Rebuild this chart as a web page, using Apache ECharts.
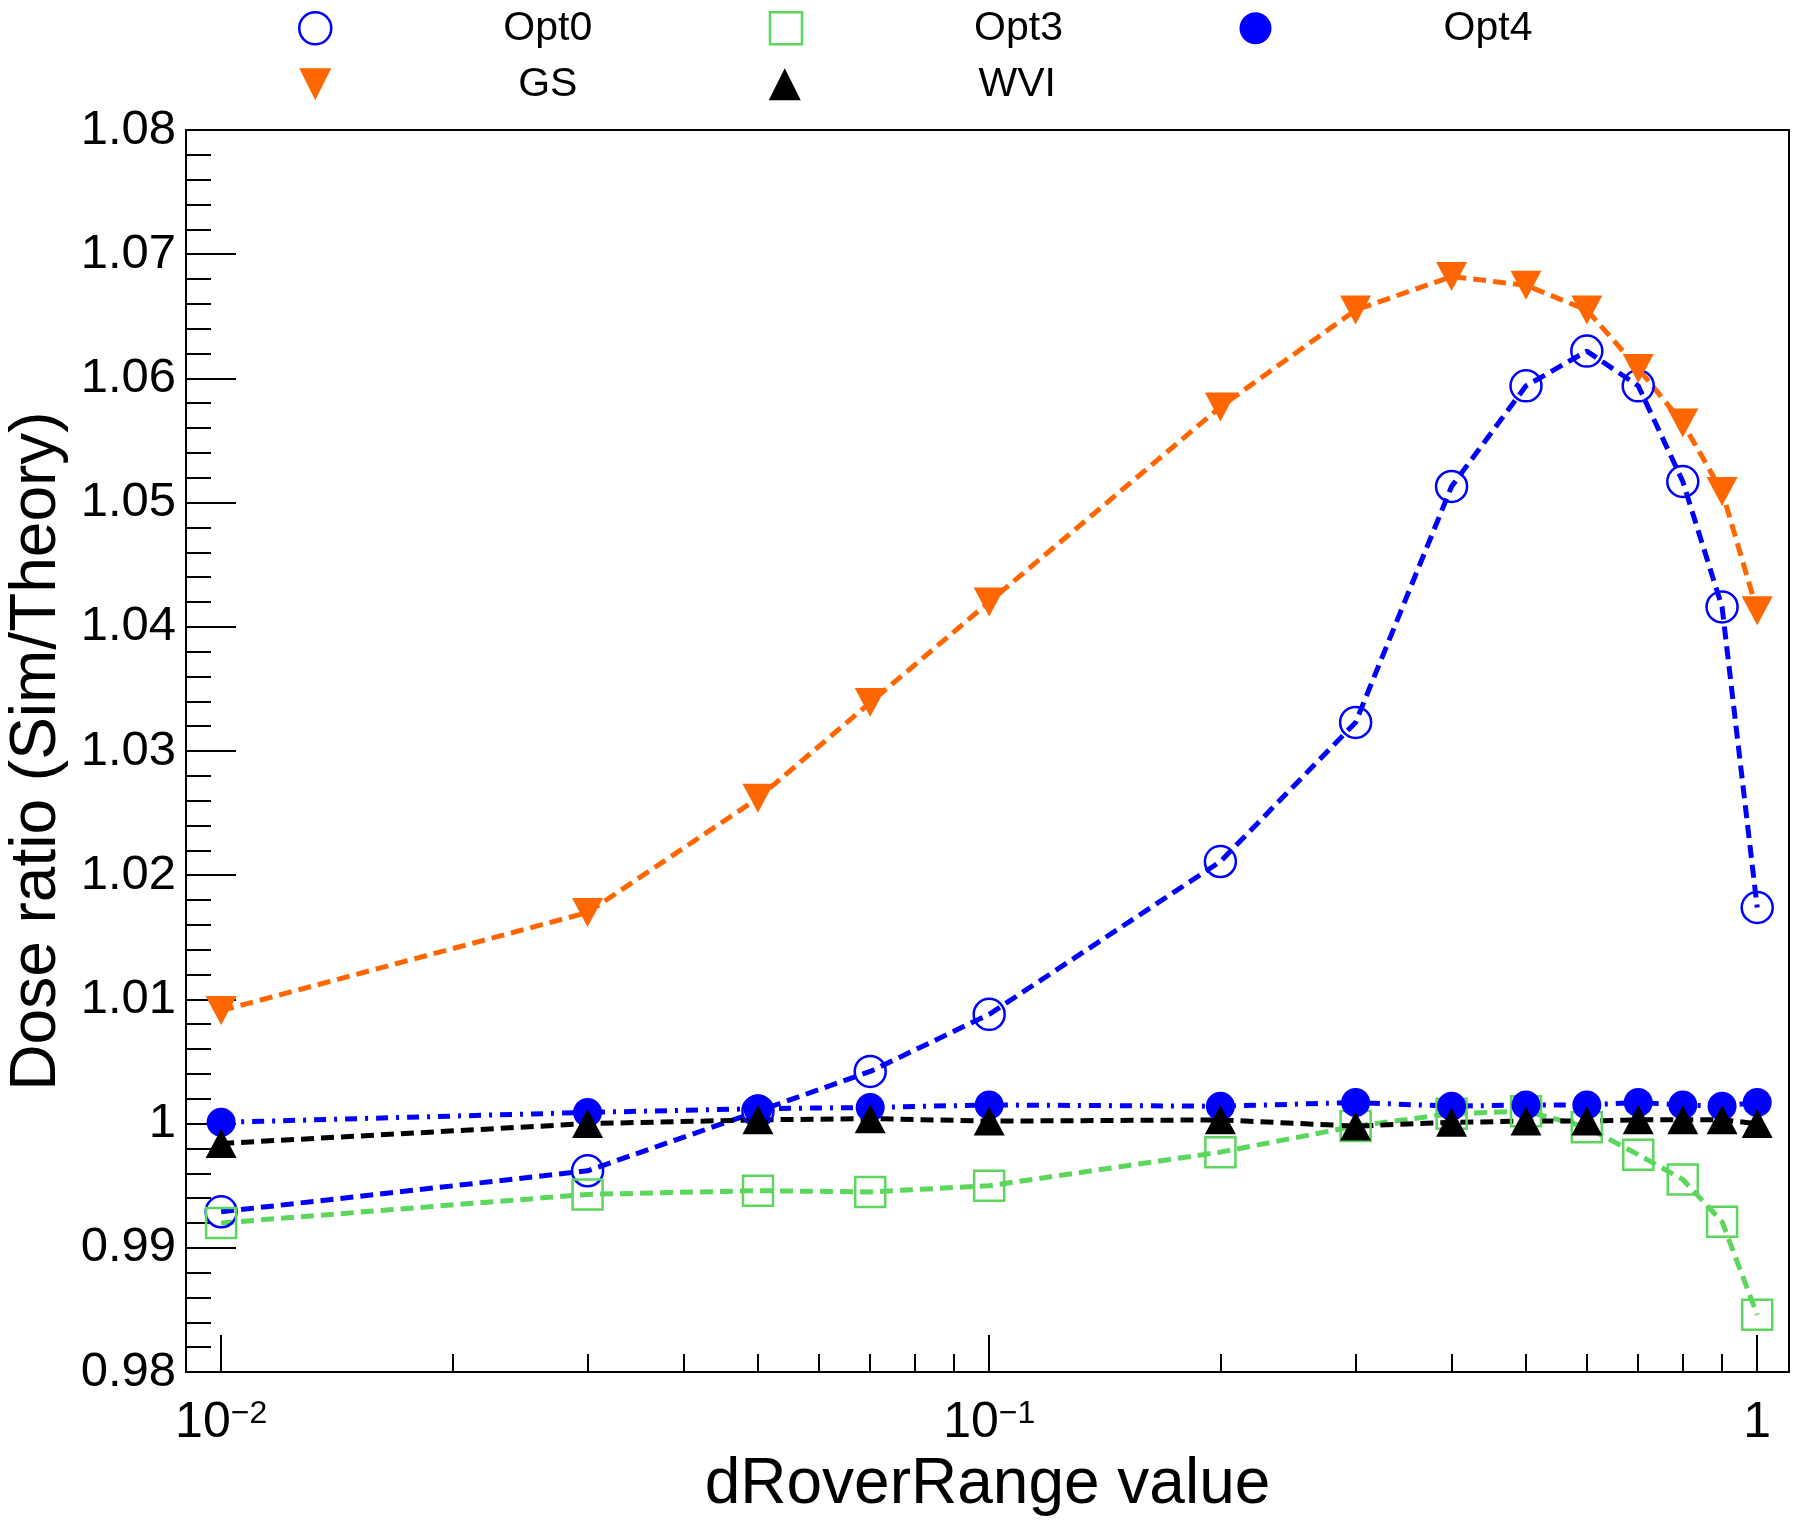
<!DOCTYPE html>
<html>
<head>
<meta charset="utf-8">
<script src="https://cdn.jsdelivr.net/npm/echarts@6/dist/echarts.min.js"></script>
<style>
html,body{margin:0;padding:0;background:#fff;}
#chart{width:1800px;height:1524px;}
</style>
</head>
<body>
<div id="chart"></div>
<script>
// ---- data ----
const xValues = [0.01, 0.03, 0.05, 0.07, 0.1, 0.2, 0.3, 0.4, 0.5, 0.6, 0.7, 0.8, 0.9, 1.0];
const opt0 = [0.9929, 0.9962, 1.0010, 1.0042, 1.0088, 1.0211, 1.0323, 1.0513, 1.0594, 1.0622, 1.0594, 1.0517, 1.0416, 1.0174];
const opt3 = [0.9920, 0.9943, 0.9946, 0.9945, 0.9950, 0.9977, 0.9998, 1.0008, 1.0010, 0.9997, 0.9975, 0.9955, 0.9921, 0.9846];
const opt4 = [1.0001, 1.0009, 1.0012, 1.0013, 1.0015, 1.0014, 1.0017, 1.0014, 1.0015, 1.0015, 1.0017, 1.0015, 1.0014, 1.0017];
const gs   = [1.0091, 1.0170, 1.0262, 1.0339, 1.0420, 1.0577, 1.0655, 1.0682, 1.0675, 1.0655, 1.0608, 1.0564, 1.0509, 1.0413];
const wvi  = [0.9984, 1.0000, 1.0003, 1.0004, 1.0002, 1.0003, 0.9998, 1.0001, 1.0002, 1.0002, 1.0003, 1.0003, 1.0003, 1.0000];

const seriesNames = ['Opt0', 'Opt3', 'Opt4', 'GS', 'WVI'];
const xMajorTicks = [0.01, 0.1, 1];
const xMajorLabels = ['{b|10}{s|\u22122}', '{b|10}{s|\u22121}', '{b|1}'];
const xMinorTicks = [0.02, 0.03, 0.04, 0.05, 0.06, 0.07, 0.08, 0.09, 0.2, 0.3, 0.4, 0.5, 0.6, 0.7, 0.8, 0.9];
const yMin = 0.98, yMax = 1.08, yStep = 0.01;
const xMin = 0.009, xMax = 1.1;
const xTitle = 'dRoverRange value';
const yTitle = 'Dose ratio (Sim/Theory)';

// ---- styling ----
const FONT = 'Liberation Sans';
const BLUE = '#0000ff', GREEN = '#5cd65c', ORANGE = '#ff6600', BLACK = '#000000';
const DASH = [13, 7];
const LW = 5;
const pairs = ys => xValues.map((x, i) => [x, ys[i]]);

const chart = echarts.init(document.getElementById('chart'), null, {renderer: 'canvas'});

const baseSeries = {
  type: 'line', silent: true, animation: false,
  emphasis: {disabled: true}, showAllSymbol: true, clip: false
};

const option = {
  animation: false,
  backgroundColor: '#ffffff',
  textStyle: {fontFamily: FONT, color: '#000'},
  grid: {left: 186, right: 11, top: 130, bottom: 152, show: true,
         containLabel: false, outerBoundsMode: 'none',
         borderColor: '#000', borderWidth: 2, backgroundColor: 'transparent'},
  legend: {
    left: 298, top: 5, width: 1420, padding: 0,
    itemWidth: 32, itemHeight: 32, itemGap: 9.5,
    selectedMode: false,
    formatter: n => '{a|' + n + '}',
    textStyle: {fontFamily: FONT, color: '#000',
      rich: {a: {width: 423, height: 46.5, lineHeight: 46.5, align: 'center', fontSize: 41, fontFamily: FONT, color: '#000'}}},
    data: [
      {name: 'Opt0', icon: 'circle', itemStyle: {color: 'rgba(255,255,255,0)', borderColor: BLUE, borderWidth: 2.5}},
      {name: 'Opt3', icon: 'rect', itemStyle: {color: 'rgba(255,255,255,0)', borderColor: GREEN, borderWidth: 2.5}},
      {name: 'Opt4', icon: 'circle', itemStyle: {color: BLUE, borderWidth: 0}},
      {name: 'GS', icon: 'path://M0,0L10,0L5,10Z', itemStyle: {color: ORANGE, borderWidth: 0}},
      {name: 'WVI', icon: 'triangle', itemStyle: {color: BLACK, borderWidth: 0}}
    ]
  },
  xAxis: [
    {
      type: 'log', logBase: 10, min: xMin, max: xMax,
      name: xTitle, nameLocation: 'middle', nameGap: 73,
      nameTextStyle: {fontFamily: FONT, fontSize: 64, color: '#000'},
      axisLine: {show: true, lineStyle: {color: '#000', width: 2}},
      axisTick: {show: true, inside: true, length: 37, customValues: xMajorTicks,
                 lineStyle: {color: '#000', width: 2}},
      minorTick: {show: false},
      splitLine: {show: false},
      axisLabel: {show: true, margin: 26, customValues: xMajorTicks,
        formatter: v => {
          for (let i = 0; i < xMajorTicks.length; i++) {
            if (Math.abs(Math.log10(v) - Math.log10(xMajorTicks[i])) < 1e-6) return xMajorLabels[i];
          }
          return '';
        },
        rich: {
          b: {fontFamily: FONT, fontSize: 50, lineHeight: 50, color: '#000'},
          s: {fontFamily: FONT, fontSize: 32, lineHeight: 20, verticalAlign: 'top', color: '#000'}
        }
      }
    },
    {
      type: 'log', logBase: 10, min: xMin, max: xMax, position: 'bottom',
      axisLine: {show: false},
      axisTick: {show: true, inside: true, length: 18, customValues: xMinorTicks,
                 lineStyle: {color: '#000', width: 2}},
      axisLabel: {show: false},
      splitLine: {show: false}
    }
  ],
  yAxis: {
    type: 'value', min: yMin, max: yMax, interval: yStep,
    name: yTitle, nameLocation: 'middle', nameGap: 116,
    nameTextStyle: {fontFamily: FONT, fontSize: 64, color: '#000'},
    axisLine: {show: true, lineStyle: {color: '#000', width: 2}},
    axisTick: {show: true, inside: true, length: 50, lineStyle: {color: '#000', width: 2}},
    minorTick: {show: true, splitNumber: 5, length: 25, lineStyle: {color: '#000', width: 2}},
    splitLine: {show: false},
    minorSplitLine: {show: false},
    axisLabel: {margin: 10, fontFamily: FONT, fontSize: 49, color: '#000',
      formatter: v => String(Math.round(v * 100) / 100)}
  },
  series: [
    Object.assign({}, baseSeries, {
      name: seriesNames[0], data: pairs(opt0), symbol: 'circle', symbolSize: 31,
      itemStyle: {color: 'rgba(255,255,255,0)', borderColor: BLUE, borderWidth: 2.5},
      lineStyle: {color: BLUE, width: LW, type: DASH}
    }),
    Object.assign({}, baseSeries, {
      name: seriesNames[1], data: pairs(opt3), symbol: 'rect', symbolSize: 30,
      itemStyle: {color: 'rgba(255,255,255,0)', borderColor: GREEN, borderWidth: 2.5},
      lineStyle: {color: GREEN, width: LW, type: DASH}
    }),
    Object.assign({}, baseSeries, {
      name: seriesNames[2], data: pairs(opt4), symbol: 'circle', symbolSize: 29,
      itemStyle: {color: BLUE, borderWidth: 0},
      lineStyle: {color: BLUE, width: LW, type: [12, 8, 3, 8]}
    }),
    Object.assign({}, baseSeries, {
      name: seriesNames[3], data: pairs(gs), symbol: 'triangle', symbolRotate: 180, symbolSize: [31, 29],
      itemStyle: {color: ORANGE, borderWidth: 0},
      lineStyle: {color: ORANGE, width: LW, type: DASH}
    }),
    Object.assign({}, baseSeries, {
      name: seriesNames[4], data: pairs(wvi), symbol: 'triangle', symbolSize: [31, 29],
      itemStyle: {color: BLACK, borderWidth: 0},
      lineStyle: {color: BLACK, width: LW, type: DASH}
    })
  ]
};
chart.setOption(option);
</script>
</body>
</html>
